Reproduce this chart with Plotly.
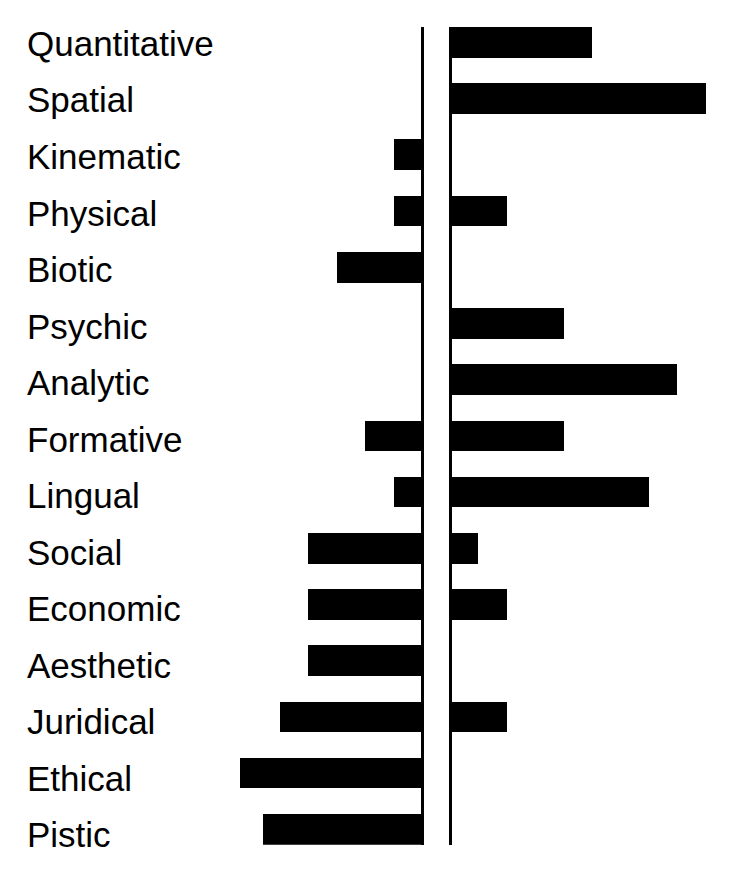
import plotly.graph_objects as go

# aspects, top to bottom
categories = ["Quantitative", "Spatial", "Kinematic", "Physical", "Biotic",
              "Psychic", "Analytic", "Formative", "Lingual", "Social",
              "Economic", "Aesthetic", "Juridical", "Ethical", "Pistic"]
# bars to the left of the first line
left_values = [0, 0, 1, 1, 3, 0, 0, 2, 1, 4, 4, 4, 5, 6.4, 5.6]
# bars to the right of the second line
right_values = [5, 9, 0, 2, 0, 4, 8, 4, 7, 1, 2, 0, 2, 0, 0]

# the page has an 8px body margin, so the figure is a bit smaller
# and every pixel position below is page px minus 8
OFF = 8
W, H = 736 - OFF, 871 - OFF
unit = 28.4          # px per unit on both axes
left_zero, right_zero = 422 - OFF, 450 - OFF
split = 436 - OFF    # where the two panels meet
left_edge, right_edge = 230 - OFF, 728 - OFF
top, bottom = 27 - OFF, 844.7 - OFF

n = len(categories)
ypos = list(range(n))
bw_ = 0.546

fig = go.Figure()

fig.add_trace(go.Bar(x=left_values, y=ypos, orientation="h", width=bw_,
                     marker=dict(color="black", line_width=0),
                     xaxis="x", yaxis="y", showlegend=False))
fig.add_trace(go.Bar(x=right_values, y=ypos, orientation="h", width=bw_,
                     marker=dict(color="black", line_width=0),
                     xaxis="x2", yaxis="y2", showlegend=False))

# labels, left aligned, on a slightly wider row pitch than the bars
for i, name in enumerate(categories):
    ty = 43.5 + 56.5 * i - OFF
    fig.add_annotation(x=17 / W, xref="paper", xanchor="left",
                       y=1 - ty / H, yref="paper", yanchor="middle",
                       text=name, showarrow=False,
                       font=dict(family="Liberation Sans, Arial", size=35, color="black"))

ydom = [1 - bottom / H, 1 - top / H]
yrange = [n - 1 + bw_ / 2, -bw_ / 2]

fig.update_layout(
    width=W, height=H,
    margin=dict(l=0, r=0, t=0, b=0),
    plot_bgcolor="white", paper_bgcolor="white",
    bargap=0,
    xaxis=dict(domain=[left_edge / W, split / W],
               range=[(left_zero - left_edge) / unit, -(split - left_zero) / unit],
               showgrid=False, showticklabels=False, ticks="",
               zeroline=True, zerolinecolor="black", zerolinewidth=3),
    xaxis2=dict(domain=[split / W, right_edge / W],
                range=[-(right_zero - split) / unit, (right_edge - right_zero) / unit],
                showgrid=False, showticklabels=False, ticks="",
                zeroline=True, zerolinecolor="black", zerolinewidth=3),
    yaxis=dict(domain=ydom, range=yrange, anchor="x",
               showgrid=False, showticklabels=False, zeroline=False, ticks=""),
    yaxis2=dict(domain=ydom, range=yrange, anchor="x2",
                showgrid=False, showticklabels=False, zeroline=False, ticks=""),
)

fig.write_html("out.html")
